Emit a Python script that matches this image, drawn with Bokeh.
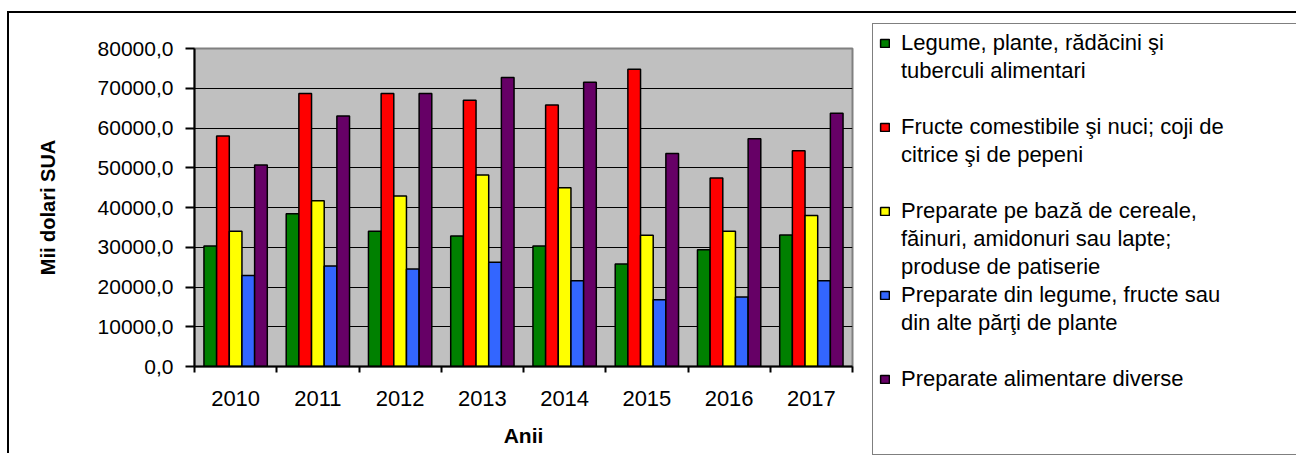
from bokeh.plotting import figure
from bokeh.models import (Range1d, FixedTicker, Legend, LegendItem, ColumnDataSource)
from bokeh.transform import dodge
from bokeh.embed import file_html
from bokeh.resources import INLINE

# ---- data ----
years = ["2010", "2011", "2012", "2013", "2014", "2015", "2016", "2017"]
legume = [30300, 38400, 34000, 32800, 30300, 25800, 29400, 33100]
fructe = [58000, 68700, 68700, 67000, 65800, 74800, 47400, 54300]
cereale = [34000, 41700, 42900, 48200, 45000, 33000, 34000, 38000]
prep_legume = [22900, 25300, 24500, 26200, 21600, 16800, 17500, 21600]
diverse = [50700, 63000, 68700, 72700, 71500, 53600, 57300, 63700]

series_keys = ["legume", "fructe", "cereale", "prep_legume", "diverse"]
BLANK = "\u2800"  # invisible legend line used as vertical gap between entries
# legend text, one entry per series; lines after the first are continuation lines
series_labels = [
    ["Legume, plante, rădăcini şi", "tuberculi alimentari", BLANK],
    ["Fructe comestibile şi nuci; coji de", "citrice şi de pepeni", BLANK],
    ["Preparate pe bază de cereale,", "făinuri, amidonuri sau lapte;", "produse de patiserie"],
    ["Preparate din legume, fructe sau", "din alte părţi de plante", BLANK],
    ["Preparate alimentare diverse", BLANK, BLANK],
]
colors = ["#008000", "#FF0000", "#FFFF00", "#3366FF", "#660066"]

y_ticks = [0, 10000, 20000, 30000, 40000, 50000, 60000, 70000, 80000]
y_tick_labels = ["0,0", "10000,0", "20000,0", "30000,0", "40000,0",
                 "50000,0", "60000,0", "70000,0", "80000,0"]

FONT = "Liberation Sans"

# category slots on a numeric axis: slot i spans [i, i+1], centre at i+0.5
centers = [i + 0.5 for i in range(len(years))]
edges = list(range(len(years) + 1))

source = ColumnDataSource(dict(year=years, center=centers, legume=legume, fructe=fructe,
                               cereale=cereale, prep_legume=prep_legume, diverse=diverse))

p = figure(x_range=Range1d(edges[0], edges[-1]), y_range=Range1d(y_ticks[0], y_ticks[-1]),
           frame_width=658, frame_height=318,
           min_border_left=185, min_border_top=35, min_border_right=434, min_border_bottom=87,
           output_backend="svg", toolbar_location=None,
           background_fill_color="#C0C0C0", border_fill_color="white")
p.margin = (11, 0, 0, 7)
p.styles = {"border-left": "2px solid black", "border-top": "2px solid black"}
p.outline_line_color = "#808080"
p.outline_line_width = 2

# y axis
ya = p.yaxis[0]
ya.ticker = FixedTicker(ticks=y_ticks)
ya.major_label_overrides = dict(zip(y_ticks, y_tick_labels))
ya.major_label_text_font = FONT
ya.major_label_text_font_size = "21px"
ya.major_label_text_color = "black"
ya.major_label_standoff = 12
ya.major_tick_out = 9
ya.major_tick_in = 0
ya.major_tick_line_width = 2
ya.major_tick_line_color = "black"
ya.minor_tick_line_color = None
ya.axis_line_color = "black"
ya.axis_line_width = 2
ya.axis_label = "Mii dolari SUA"
ya.axis_label_text_font = FONT
ya.axis_label_text_font_style = "bold"
ya.axis_label_text_font_size = "20px"
ya.axis_label_text_color = "black"
ya.axis_label_standoff = 36

p.ygrid.ticker = FixedTicker(ticks=y_ticks[1:-1])
p.ygrid.grid_line_color = "black"
p.ygrid.grid_line_width = 1
p.xgrid.visible = False

# x axis: year labels at slot centres, tick marks at slot boundaries
xa = p.xaxis[0]
xa.ticker = FixedTicker(ticks=centers, minor_ticks=edges)
xa.major_label_overrides = dict(zip(centers, years))
xa.major_label_text_font = FONT
xa.major_label_text_font_size = "22px"
xa.major_label_text_color = "black"
xa.major_tick_line_color = None
xa.major_tick_out = 0
xa.major_tick_in = 0
xa.minor_tick_out = 6
xa.minor_tick_in = 0
xa.minor_tick_line_color = "black"
xa.minor_tick_line_width = 2
xa.major_label_standoff = 18
xa.axis_line_color = "black"
xa.axis_line_width = 2
xa.axis_label = "Anii"
xa.axis_label_text_font = FONT
xa.axis_label_text_font_style = "bold"
xa.axis_label_text_font_size = "21px"
xa.axis_label_text_color = "black"
xa.axis_label_standoff = 15

# bars
bar_w = 0.154
n = len(series_keys)
renderers = []
for i, (key, color) in enumerate(zip(series_keys, colors)):
    off = (i - (n - 1) / 2) * bar_w
    r = p.vbar(x=dodge("center", off), top=key, width=bar_w, source=source,
               fill_color=color, line_color="black", line_width=1.5)
    renderers.append(r)

# legend: first line of each entry carries the swatch, continuation lines have none
legend_items = []
for lines, r in zip(series_labels, renderers):
    legend_items.append(LegendItem(label=lines[0], renderers=[r]))
    for extra in lines[1:]:
        legend_items.append(LegendItem(label=extra, renderers=[]))

legend = Legend(items=legend_items,
                location=(20, -89), margin=0, padding=6, spacing=2,
                glyph_width=11, glyph_height=10, label_standoff=11, label_width=395,
                label_text_font=FONT, label_text_font_size="22px", label_text_color="black",
                border_line_color="black", border_line_width=1.5,
                background_fill_color="white", background_fill_alpha=1.0)
p.add_layout(legend, "right")

open("out.html", "w").write(file_html(p, INLINE))
